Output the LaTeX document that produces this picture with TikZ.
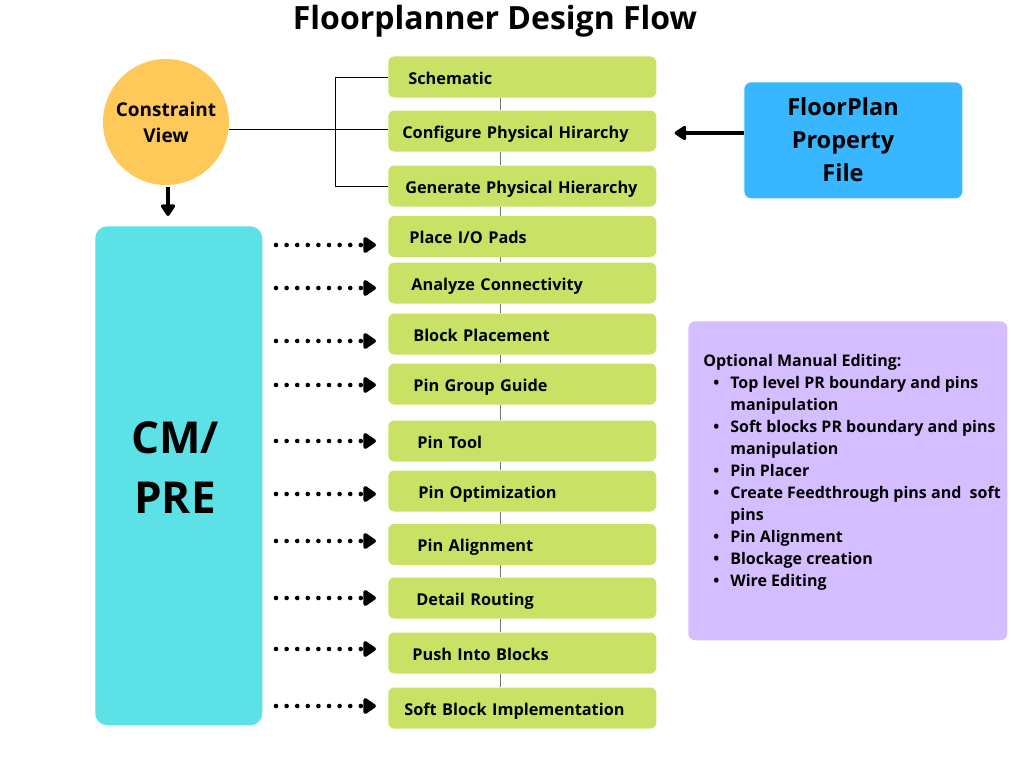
\documentclass[tikz,border=0pt]{standalone}
\usepackage{fontspec}
\setmainfont{Open Sans}
\usetikzlibrary{arrows.meta,positioning}
\definecolor{boxgreen}{HTML}{C9E265}
\definecolor{cmcyan}{HTML}{5CE1E6}
\definecolor{cvyellow}{HTML}{FFC95A}
\definecolor{fpblue}{HTML}{38B6FF}
\definecolor{editpurple}{HTML}{D4BEFF}

\begin{document}
\begin{tikzpicture}[x=1pt,y=-1pt,semithick]
\tikzstyle{flowbox}=[rectangle,rounded corners=6pt,fill=boxgreen,minimum width=268pt,minimum height=41pt,anchor=west,align=left,text height=16pt,text depth=2pt,font=\bfseries\fontsize{16.3}{18}\selectfont]
\tikzstyle{spine}=[draw=black!55,line width=1pt]
\tikzstyle{dotarrow}=[line width=4.6pt,line cap=round,dash pattern=on 0pt off 10.6pt,-{Triangle[length=14pt,width=18pt,round]}]
\tikzstyle{bigarrow}=[line width=4.5pt,-{Triangle[length=13pt,width=16pt,round]}]

\useasboundingbox (0,0) rectangle (1024,768);

\node[font=\bfseries\fontsize{32}{36}\selectfont] (title) at (495,21) {Floorplanner Design Flow};

% flow steps
\foreach \i/\y/\off/\txt in {1/77/20/Schematic,2/131/14/Configure Physical Hirarchy,
  3/186/17/Generate Physical Hierarchy,4/236.5/21/{Place I/O Pads},5/283/23/Analyze Connectivity,
  6/334/25/Block Placement,7/384/25/Pin Group Guide,8/441/29/Pin Tool,9/491/30/Pin Optimization,
  10/544.5/29/Pin Alignment,11/598/28/Detail Routing,12/653/24/Push Into Blocks,
  13/708/16/Soft Block Implementation}{
  \pgfmathsetmacro\tw{268-2*\off}
  \node[flowbox,text width=\tw pt,inner xsep=\off pt] (s\i) at (388,\y) {\txt};
}
\coordinate (sp) at (500,0);
\foreach \i [evaluate=\i as \j using int(\i+1)] in {1,...,12}
  \draw[spine] (s\i.south -| sp) -- (s\j.north -| sp);

% constraint view
\node[circle,fill=cvyellow,minimum size=126pt,align=center,
  font=\bfseries\fontsize{19}{26}\selectfont] (cv) at (166,122) {Constraint\\View};
\coordinate (br) at (335,129);
\draw[line width=0.8pt] (cv.east |- br) -- (s2.west |- br);
\draw[line width=0.8pt] (s1.west) -- (s1.west -| br) -- (s3.west -| br) -- (s3.west);

% CM/PRE
\node[rectangle,rounded corners=12pt,fill=cmcyan,minimum width=167pt,minimum height=499pt,
  anchor=north west] (cm) at (95,226) {};
\node[align=center,font=\bfseries\fontsize{44}{60}\selectfont] (cmtxt) at (175,468) {CM/\\PRE};
\draw[bigarrow,line width=3.5pt,shorten <=2pt,shorten >=10pt] (cv.south -| 168,0) -- (cm.north -| 168,0);

\foreach \i/\y in {4/245,5/288,6/341,7/385,8/441,9/494,10/541,11/598,12/649,13/706}{
  \coordinate (d\i) at (276,\y);
  \draw[dotarrow,shorten >=12pt] (d\i) -- (d\i -| s\i.west);
}

% property file
\node[rectangle,rounded corners=7pt,fill=fpblue,minimum width=218pt,minimum height=116pt,
  anchor=north west] (fp) at (744,82) {};
\node[align=center,font=\bfseries\fontsize{23.5}{33}\selectfont] (fptxt) at (843,140)
  {FloorPlan\\Property\\File};
\coordinate (fa) at (744,133);
\draw[bigarrow,shorten >=18pt] (fa) -- (fa -| s2.east);

% manual editing
\node[rectangle,rounded corners=7pt,fill=editpurple,minimum width=319pt,minimum height=319pt,
  anchor=north west] (me) at (688,321) {};
\node[anchor=north west,align=left,inner sep=0pt,font=\bfseries\fontsize{16}{22}\selectfont] (metxt) at (703,354)
  {Optional Manual Editing:\\
  \hspace*{10pt}\makebox[17pt][l]{•}Top level PR boundary and pins\\
  \hspace*{27pt}manipulation\\
  \hspace*{10pt}\makebox[17pt][l]{•}Soft blocks PR boundary and pins\\
  \hspace*{27pt}manipulation\\
  \hspace*{10pt}\makebox[17pt][l]{•}Pin Placer\\
  \hspace*{10pt}\makebox[17pt][l]{•}Create Feedthrough pins and~ soft\\
  \hspace*{27pt}pins\\
  \hspace*{10pt}\makebox[17pt][l]{•}Pin Alignment\\
  \hspace*{10pt}\makebox[17pt][l]{•}Blockage creation\\
  \hspace*{10pt}\makebox[17pt][l]{•}Wire Editing};
\end{tikzpicture}
\end{document}
